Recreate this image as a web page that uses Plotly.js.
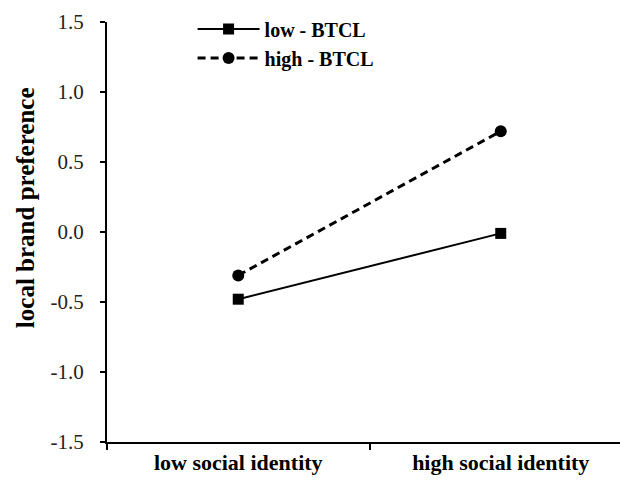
<!DOCTYPE html>
<html><head><meta charset="utf-8">
<script src="https://cdn.plot.ly/plotly-3.0.1.min.js"></script>
<style>html,body{margin:0;padding:0;overflow:hidden;background:#fff}</style>
</head><body><div id="chart"></div>
<script>
const categories = ["low social identity", "high social identity"];
const lowBTCL = [-0.48, -0.01];
const highBTCL = [-0.31, 0.72];
const seriesNames = ["low - BTCL", "high - BTCL"];
const yTicks = [-1.5, -1.0, -0.5, 0.0, 0.5, 1.0, 1.5];
const yTickText = ["-1.5", "-1.0", "-0.5", "0.0", "0.5", "1.0", "1.5"];
const yTitle = "local brand preference";

const serif = "Liberation Serif, Times New Roman, serif";
const traces = [
  {x: categories, y: lowBTCL, name: seriesNames[0], type: "scatter", mode: "lines+markers",
   line: {color: "#000", width: 2, dash: "solid"}, marker: {symbol: "square", size: 11, color: "#000"}},
  {x: categories, y: highBTCL, name: seriesNames[1], type: "scatter", mode: "lines+markers",
   line: {color: "#000", width: 3, dash: "8px,5px"}, marker: {symbol: "circle", size: 12, color: "#000"}}
];
const layout = {
  width: 632, height: 482,
  margin: {l: 107, r: 0, t: 22, b: 40},
  paper_bgcolor: "#fff", plot_bgcolor: "#fff",
  showlegend: true,
  legend: {x: 0.163, y: 1.03, xanchor: "left", yanchor: "top", bgcolor: "rgba(0,0,0,0)",
    font: {family: serif, size: 20, color: "#000", weight: "bold"}, itemwidth: 62, tracegroupgap: 0},
  xaxis: {type: "category", range: [-0.5, 1.5], showline: true, linecolor: "#000", linewidth: 2,
    ticks: "outside", tickson: "boundaries", ticklen: 6, tickwidth: 2, tickcolor: "#000",
    showgrid: false, zeroline: false,
    tickfont: {family: serif, size: 22, color: "#000", weight: "bold"}},
  yaxis: {range: [-1.5, 1.5], tickvals: yTicks, ticktext: yTickText, showline: true, linecolor: "#000", linewidth: 2,
    ticks: "outside", ticklen: 5, tickwidth: 2, tickcolor: "#000", showgrid: false, zeroline: false,
    ticklabelstandoff: 12,
    tickfont: {family: serif, size: 21, color: "#222"}},
  annotations: [{text: yTitle, xref: "paper", yref: "paper", x: -0.156, y: 0.557,
    xanchor: "center", yanchor: "middle", textangle: -90, showarrow: false,
    font: {family: serif, size: 25, color: "#000", weight: "bold"}}]
};
Plotly.newPlot("chart", traces, layout, {displayModeBar: false, staticPlot: true});
</script></body></html>
